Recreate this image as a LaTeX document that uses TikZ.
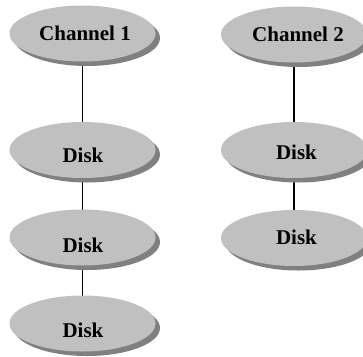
\documentclass[tikz,border=0pt]{standalone}
\usepackage{fontspec}
\setmainfont{Liberation Serif}
\usetikzlibrary{shapes.geometric,shadows,backgrounds}
\definecolor{diskfill}{RGB}{192,192,192}
\definecolor{diskshadow}{RGB}{128,128,128}
\tikzset{
  disknode/.style={ellipse, minimum width=146pt, minimum height=56pt, inner sep=0pt,
    fill=diskfill, draw=none,
    copy shadow={shadow xshift=4.5pt, shadow yshift=-4.5pt, fill=diskshadow, draw=none}},
  lbl/.style={inner sep=0pt, font=\fontsize{21}{25}\selectfont\bfseries},
  link/.style={draw=black, line width=1.2pt}
}
\begin{document}
\begin{tikzpicture}[x=1pt,y=-1pt]
\useasboundingbox (0,0) rectangle (363,356);
\node[disknode] (c1) at (82.5,33.5) {};
\node[disknode] (d1) at (82.5,150) {};
\node[disknode] (d2) at (82.5,237.5) {};
\node[disknode] (d3) at (82.5,323.5) {};
\node[disknode] (c2) at (294,34.5) {};
\node[disknode] (e1) at (294,150) {};
\node[disknode] (e2) at (294,238) {};
\node[lbl] (tc1) at (85,33.5) {Channel 1};
\node[lbl] (td1) at (83,155) {Disk};
\node[lbl] (td2) at (83,245) {Disk};
\node[lbl] (td3) at (83,330) {Disk};
\node[lbl] (tc2) at (298,34.5) {Channel 2};
\node[lbl] (te1) at (296.5,152) {Disk};
\node[lbl] (te2) at (296.5,237) {Disk};
\begin{scope}[on background layer]
\draw[link] (c1.center) -- (d1.center);
\draw[link] (d1.center) -- (d2.center);
\draw[link] (d2.center) -- (d3.center);
\draw[link] (c2.center) -- (e1.center);
\draw[link] (e1.center) -- (e2.center);
\end{scope}
\end{tikzpicture}
\end{document}
